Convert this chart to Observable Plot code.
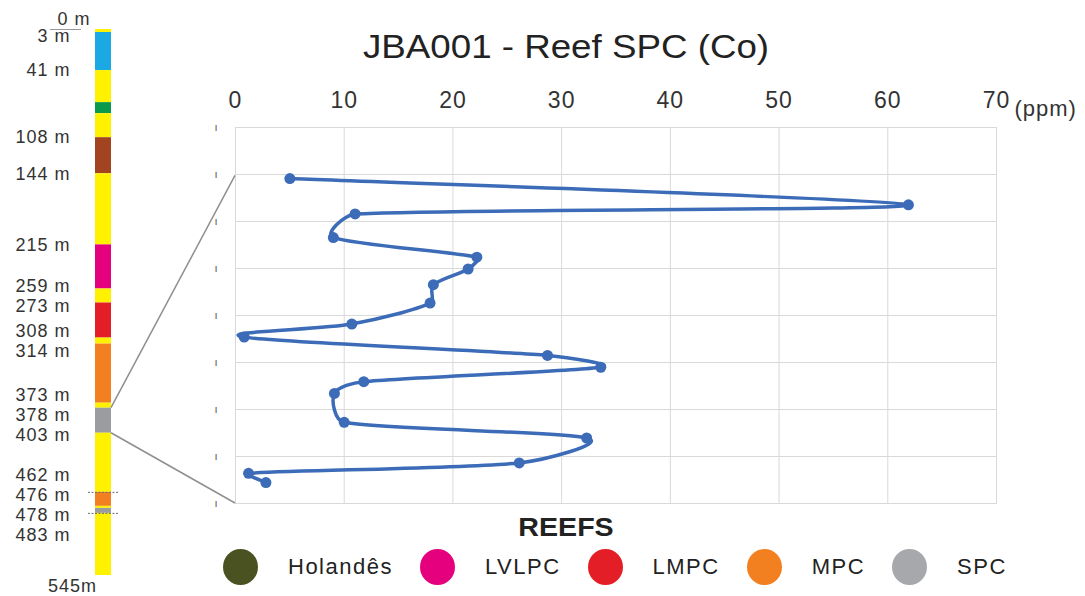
<!DOCTYPE html>
<html>
<head>
<meta charset="utf-8">
<script src="https://cdn.jsdelivr.net/npm/d3@7"></script>
<script src="https://cdn.jsdelivr.net/npm/@observablehq/plot@0.6"></script>
<style>
  body { margin: 0; background: #fff; font-family: "Liberation Sans", Arial, sans-serif; }
  #wrap { position: relative; width: 1085px; height: 596px; overflow: hidden; background: #fff; }
  #wrap > * { position: absolute; left: 0; top: 0; }
  #title { left: 66px; top: 29px; width: 1000px; text-align: center; font-size: 34px; line-height: 1; color: #222; transform: scaleX(1.08); }
  #reefs { left: 266px; top: 514px; width: 600px; text-align: center; font-size: 26px; font-weight: bold; line-height: 1; color: #222; transform: scaleX(1.1); }
  #legend { left: 223px; top: 549px; height: 36px; display: flex; align-items: center; }
  #legend .sw { width: 35px; height: 36px; border-radius: 50%; margin-right: 30px; }
  #legend .lb { font-size: 22px; letter-spacing: 1.5px; color: #222; margin-right: 27px; line-height: 1; }
</style>
</head>
<body>
<div id="wrap"></div>
<script>
// ---------- data ----------
const coPpm       = [5.0, 61.9, 11.0, 9.0, 22.2, 21.4, 18.2, 17.9, 10.7, 0.8, 28.7, 33.6, 11.8, 9.1, 10.0, 32.3, 26.1, 1.2, 2.8];
const sampleDepth = [378.2, 380.2, 380.9, 382.7, 384.2, 385.1, 386.3, 387.7, 389.3, 390.3, 391.7, 392.6, 393.7, 394.6, 396.8, 398.0, 399.9, 400.7, 401.4];
const xTicks = [0, 10, 20, 30, 40, 50, 60, 70];
const chartDepthDomain = [374.3, 403];
const zoomInterval = [378, 403];

const unitTop    = [0, 3, 41, 73, 84, 108, 144, 215, 259, 273, 308, 314, 373, 378, 403, 462, 476, 478, 483];
const unitBottom = [3, 41, 73, 84, 108, 144, 215, 259, 273, 308, 314, 373, 378, 403, 462, 476, 478, 483, 545];
const unitKind   = ["sand","blue","sand","green","sand","brown","sand","LVLPC","sand","LMPC","sand","MPC","sand","SPC","sand","MPC","sand","SPC","sand"];
const kindNames  = ["sand","blue","green","brown","LVLPC","LMPC","MPC","SPC"];
const kindColors = ["#fff200","#1ba9e3","#0b9a4b","#a1441f","#e5007d","#e41e26","#f28021","#9a9c9f"];
const depthLabels = [3, 41, 108, 144, 215, 259, 273, 308, 314, 373, 378, 403, 462, 476, 478, 483];
const wellTop = 0, wellBottom = 545;
const unconformities = [462, 483];

const reefNames  = ["Holandês", "LVLPC", "LMPC", "MPC", "SPC"];
const reefColors = ["#4b5222", "#e5007d", "#e41e26", "#f28021", "#a6a8ab"];

const FONT = "Liberation Sans, Arial, sans-serif";
const wrap = document.getElementById("wrap");

// ---------- spreadsheet-style smoothed curve (Catmull-Rom with clamped handles) ----------
function SmoothCurve(context) { this._context = context; }
SmoothCurve.prototype = {
  areaStart() { this._line = 0; },
  areaEnd() { this._line = NaN; },
  lineStart() { this._pts = []; },
  point(x, y) { this._pts.push([+x, +y]); },
  lineEnd() {
    const p = this._pts, n = p.length, c = this._context;
    if (!n) return;
    c.moveTo(p[0][0], p[0][1]);
    const clamp = (v, cap) => {
      const l = Math.hypot(v[0], v[1]);
      return l > cap && l > 0 ? [v[0] * cap / l, v[1] * cap / l] : v;
    };
    for (let i = 0; i < n - 1; i++) {
      const a = p[i], b = p[i + 1], prev = p[i - 1] || a, next = p[i + 2] || b;
      const len = Math.hypot(b[0] - a[0], b[1] - a[1]);
      const t1 = clamp([(b[0] - prev[0]) / 6, (b[1] - prev[1]) / 6], 0.33 * len);
      const t2 = clamp([(next[0] - a[0]) / 6, (next[1] - a[1]) / 6], 0.33 * len);
      c.bezierCurveTo(a[0] + t1[0], a[1] + t1[1], b[0] - t2[0], b[1] - t2[1], b[0], b[1]);
    }
  }
};
const curveSmooth = ctx => new SmoothCurve(ctx);

// ---------- main chart ----------
const samples = coPpm.map((v, i) => ({co: v, depth: sampleDepth[i]}));
const gridDepths = d3.range(9).map(i => chartDepthDomain[0] + i * (chartDepthDomain[1] - chartDepthDomain[0]) / 8);
const lineColor = "#3c6bb8";

const main = Plot.plot({
  width: 1085, height: 530,
  marginTop: 127, marginLeft: 235, marginRight: 89, marginBottom: 27,
  style: {background: "transparent", fontFamily: FONT, fontSize: "23px", color: "#333", overflow: "visible"},
  x: {domain: [0, 70], axis: "top", ticks: xTicks, tickSize: 0, tickPadding: 20, label: null},
  y: {domain: chartDepthDomain, reverse: true, axis: null},
  marks: [
    Plot.gridX(xTicks, {stroke: "#d9d9d9", strokeOpacity: 1}),
    Plot.gridY(gridDepths, {stroke: "#d9d9d9", strokeOpacity: 1}),
    Plot.frame({stroke: "#d9d9d9"}),
    Plot.text(gridDepths, {y: d => d, frameAnchor: "left", dx: -21, text: () => "ı", fontSize: 11, fill: "#555"}),
    Plot.line(samples, {x: "co", y: "depth", curve: curveSmooth, stroke: lineColor, strokeWidth: 3.5}),
    Plot.dot(samples, {x: "co", y: "depth", r: 5.5, fill: lineColor}),
    Plot.text(["(ppm)"], {frameAnchor: "top-right", dx: 18, dy: -27, textAnchor: "start", fontSize: 22, fill: "#333"})
  ]
});
main.querySelectorAll("text").forEach(t => t.style.letterSpacing = "1px");
wrap.appendChild(main);

// ---------- stratigraphic column ----------
const units = unitTop.map((t, i) => ({top: t, bottom: unitBottom[i], kind: unitKind[i]}));

// spread depth labels so they do not overlap (1 m ≈ 1 px on this column)
const minGap = 20;
const lab = depthLabels.map(d => ({depth: d, pos: d}));
const firstMin = wellTop - 10 + 17;
for (let it = 0; it < 400; it++) {
  if (lab[0].pos < firstMin) lab[0].pos = firstMin;
  for (let i = 1; i < lab.length; i++) {
    const gap = lab[i].pos - lab[i - 1].pos;
    if (gap < minGap) {
      const push = (minGap - gap) / 2;
      lab[i - 1].pos -= push;
      lab[i].pos += push;
    }
  }
}

const col = Plot.plot({
  width: 180, height: 596,
  marginTop: 29, marginBottom: 21, marginLeft: 95, marginRight: 69,
  style: {background: "transparent", fontFamily: FONT, fontSize: "18px", color: "#333", overflow: "visible"},
  x: {domain: [0, 1], axis: null},
  y: {domain: [wellTop, wellBottom], reverse: true, axis: null},
  color: {domain: kindNames, range: kindColors},
  marks: [
    Plot.rect(units, {x1: 0, x2: 1, y1: "top", y2: "bottom", fill: "kind"}),
    Plot.ruleY(unconformities, {stroke: "#6b6b6b", strokeWidth: 1, strokeDasharray: "2,1.5", insetLeft: -7, insetRight: -7}),
    Plot.text(lab, {x: 0, y: "pos", text: d => `${d.depth} m`, textAnchor: "end", dx: -25, fill: "#333"}),
    Plot.text([wellTop], {x: 0, y: d => d, text: d => `${d} m`, textAnchor: "end", dx: -5, dy: -10, fill: "#333"}),
    Plot.ruleY([wellTop], {stroke: "#999", strokeWidth: 1, insetLeft: -45, insetRight: 30}),
    Plot.text([wellBottom], {x: 0, y: d => d, text: d => `${d}m`, textAnchor: "middle", dx: -23, dy: 11, fill: "#333"})
  ]
});
col.querySelectorAll("text").forEach(t => t.style.letterSpacing = "1px");
wrap.appendChild(col);

// ---------- connectors from the SPC interval to the chart ----------
const cx = col.scale("x").apply(1);
const mx = main.scale("x").apply(0);
const conn = d3.create("svg").attr("width", 1085).attr("height", 596).style("overflow", "visible");
conn.selectAll("line").data(zoomInterval).join("line")
  .attr("x1", cx).attr("y1", d => col.scale("y").apply(d))
  .attr("x2", mx).attr("y2", d => main.scale("y").apply(d))
  .attr("stroke", "#8f8f8f").attr("stroke-width", 1.5);
wrap.appendChild(conn.node());

// ---------- title and legend ----------
const title = document.createElement("div");
title.id = "title";
title.textContent = "JBA001 - Reef SPC (Co)";
wrap.appendChild(title);

const reefs = document.createElement("div");
reefs.id = "reefs";
reefs.textContent = "REEFS";
wrap.appendChild(reefs);

const legend = document.createElement("div");
legend.id = "legend";
reefNames.forEach((n, i) => {
  const sw = document.createElement("span");
  sw.className = "sw";
  sw.style.background = reefColors[i];
  const lb = document.createElement("span");
  lb.className = "lb";
  lb.textContent = n;
  legend.appendChild(sw);
  legend.appendChild(lb);
});
wrap.appendChild(legend);
</script>
</body>
</html>
